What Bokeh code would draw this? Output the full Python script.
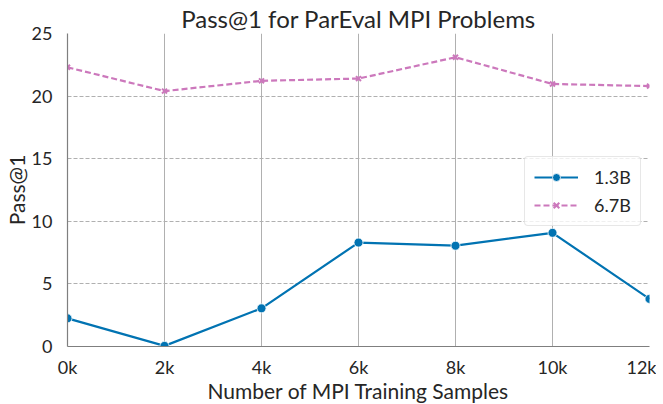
from bokeh.plotting import figure
from bokeh.models import Legend, LegendItem, FixedTicker, Range1d
from bokeh.embed import file_html
from bokeh.resources import INLINE

samples_k = [0, 2, 4, 6, 8, 10, 12]
tick_labels = {0: "0k", 2: "2k", 4: "4k", 6: "6k", 8: "8k", 10: "10k", 12: "12k"}
pass_1_3b = [2.25, 0.05, 3.05, 8.3, 8.05, 9.08, 3.8]
pass_6_7b = [22.3, 20.4, 21.22, 21.4, 23.1, 20.97, 20.8]

FONT = "Lato"
BLUE = "#0173b2"
PINK = "#cc78bc"

p = figure(output_backend="svg", toolbar_location=None,
           frame_width=582, frame_height=313,
           min_border_left=56, min_border_top=25, min_border_right=7, min_border_bottom=40,
           x_range=Range1d(0, 12), y_range=Range1d(0, 25),
           title="Pass@1 for ParEval MPI Problems")

p.title.text_font = FONT
p.title.text_font_size = "24px"
p.title.text_font_style = "normal"
p.title.text_color = "#262626"
p.title.align = "center"
p.title.standoff = 2
p.title.text_line_height = 1.0

p.outline_line_color = None
p.background_fill_color = "white"

p.xaxis.ticker = FixedTicker(ticks=samples_k)
p.xaxis.major_label_overrides = tick_labels
p.yaxis.ticker = FixedTicker(ticks=[0, 5, 10, 15, 20, 25])
for ax in (p.xaxis[0], p.yaxis[0]):
    ax.major_tick_line_color = None
    ax.minor_tick_line_color = None
    ax.axis_line_color = "#7f7f7f"
    ax.axis_line_width = 1.2
    ax.major_label_text_font = FONT
    ax.major_label_text_font_size = "18px"
    ax.major_label_text_color = "#262626"
    ax.axis_label_text_font = FONT
    ax.axis_label_text_font_size = "21px"
    ax.axis_label_text_font_style = "normal"
    ax.axis_label_text_color = "#262626"
p.xaxis.axis_label = "Number of MPI Training Samples"
p.yaxis.axis_label = "Pass@1"
p.xaxis.axis_label_standoff = -3
p.xaxis.major_label_standoff = 3
p.yaxis.major_label_standoff = 9
p.yaxis.axis_label_standoff = 0

p.xgrid.grid_line_color = "#b0b0b0"
p.xgrid.grid_line_width = 1
p.ygrid.grid_line_color = "#b0b0b0"
p.ygrid.grid_line_dash = "4 2"
p.ygrid.grid_line_width = 1

l1 = p.line(samples_k, pass_1_3b, line_color=BLUE, line_width=2.2)
m1 = p.scatter(samples_k, pass_1_3b, marker="circle", size=9, fill_color=BLUE, line_color="white", line_width=0.8)
l2 = p.line(samples_k, pass_6_7b, line_color=PINK, line_width=2.2, line_dash="6 3")
m2 = p.scatter(samples_k, pass_6_7b, marker="x", size=7, line_color=PINK, line_width=2)

legend = Legend(items=[LegendItem(label="1.3B", renderers=[l1, m1]),
                       LegendItem(label="6.7B", renderers=[l2, m2])],
                location=(457, 120))
legend.label_text_font = FONT
legend.label_text_font_size = "18px"
legend.label_text_color = "#262626"
legend.border_line_color = "#d0d0d0"
legend.border_line_width = 1
legend.border_radius = 4
legend.background_fill_alpha = 0.8
legend.glyph_width = 44
legend.label_standoff = 16
legend.padding = 9
legend.spacing = 6
legend.margin = 0
p.add_layout(legend)

open("out.html", "w").write(file_html(p, INLINE))
